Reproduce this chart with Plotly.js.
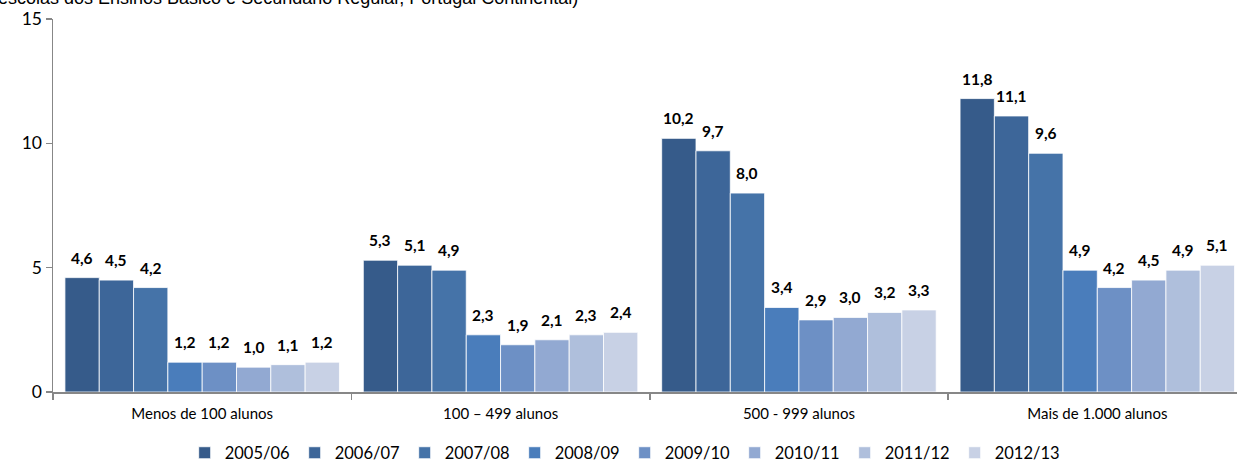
<!DOCTYPE html>
<html>
<head>
<meta charset="utf-8">
<script src="https://cdn.plot.ly/plotly-3.0.1.min.js"></script>
<style>
html,body{margin:0;padding:0;background:#fff;overflow:hidden;}
#chart{width:1237px;height:469px;}
</style>
</head>
<body>
<div id="chart"></div>
<script>
const categories = ["Menos de 100 alunos", "100 – 499 alunos", "500 - 999 alunos", "Mais de 1.000 alunos"];
const seriesNames = ["2005/06", "2006/07", "2007/08", "2008/09", "2009/10", "2010/11", "2011/12", "2012/13"];
const v2005_06 = [4.6, 5.3, 10.2, 11.8];
const v2006_07 = [4.5, 5.1, 9.7, 11.1];
const v2007_08 = [4.2, 4.9, 8.0, 9.6];
const v2008_09 = [1.2, 2.3, 3.4, 4.9];
const v2009_10 = [1.2, 1.9, 2.9, 4.2];
const v2010_11 = [1.0, 2.1, 3.0, 4.5];
const v2011_12 = [1.1, 2.3, 3.2, 4.9];
const v2012_13 = [1.2, 2.4, 3.3, 5.1];
const seriesValues = [v2005_06, v2006_07, v2007_08, v2008_09, v2009_10, v2010_11, v2011_12, v2012_13];
const colors = ["#365b8a", "#3d6699", "#4573a8", "#4a7dbb", "#6d90c5", "#92a9d2", "#afbfdc", "#c8d1e5"];
const yTicks = [0, 5, 10, 15];
const titleText = "escolas dos Ensinos Básico e Secundário Regular, Portugal Continental)";

const bargap = 0.08;
const nS = seriesNames.length;
const w = (1 - bargap) / nS;

const traces = seriesNames.map((name, j) => ({
  type: "bar",
  name: name,
  x: categories,
  y: seriesValues[j],
  marker: {color: colors[j], line: {color: "#ffffff", width: 0.8}},
  hoverinfo: "none"
}));

const annotations = [];
seriesValues.forEach((vals, j) => {
  vals.forEach((v, i) => {
    annotations.push({
      x: i - 0.5 + bargap / 2 + (j + 0.5) * w,
      y: v,
      xref: "x", yref: "y",
      text: "<b>" + v.toFixed(1).replace(".", ",") + "</b>",
      showarrow: false,
      yanchor: "bottom",
      xanchor: "center",
      yshift: 9,
      font: {family: "Lato, 'Open Sans', sans-serif", size: 15.5, color: "#000"}
    });
  });
});

const plotW = 1237 - 52.5;
annotations.push({
  xref: "paper", yref: "paper",
  x: (-5 - 52.5) / plotW, y: 1 + (19 - 9.5) / 373,
  xanchor: "left", yanchor: "bottom",
  text: titleText, showarrow: false,
  font: {family: "'Liberation Sans', Arial, sans-serif", size: 18, color: "#000"}
});

const layout = {
  width: 1237, height: 469,
  margin: {l: 52.5, r: 0, t: 19, b: 77, pad: 0},
  paper_bgcolor: "#fff", plot_bgcolor: "#fff",
  barmode: "group", bargap: bargap, bargroupgap: 0,
  separators: ",.",
  showlegend: true,
  legend: {
    orientation: "h", xref: "container", x: 0.505, xanchor: "center",
    yref: "container", y: 1 - 453 / 469, yanchor: "middle",
    font: {family: "Lato, 'Open Sans', sans-serif", size: 16.5, color: "#000"},
    itemwidth: 30, tracegroupgap: 0, entrywidth: 65, entrywidthmode: "pixels"
  },
  xaxis: {
    type: "category",
    range: [-0.5, -0.5 + plotW / 298.5],
    showline: true, linecolor: "#878787", linewidth: 1.5,
    ticks: "outside", tickson: "boundaries", ticklen: 6, tickcolor: "#878787", tickwidth: 1.5,
    ticklabelstandoff: 7,
    tickfont: {family: "Lato, 'Open Sans', sans-serif", size: 15, color: "#000"},
    showgrid: false, zeroline: false, fixedrange: true
  },
  yaxis: {
    range: [0, 15],
    tickvals: yTicks,
    ticktext: yTicks.map(String),
    showline: true, linecolor: "#878787", linewidth: 1.5,
    ticks: "outside", ticklen: 6, tickcolor: "#878787", tickwidth: 1.5,
    tickfont: {family: "Lato, 'Open Sans', sans-serif", size: 17.5, color: "#000"},
    showgrid: false, zeroline: false, fixedrange: true
  },
  annotations: annotations
};

Plotly.newPlot("chart", traces, layout, {displayModeBar: false, staticPlot: true});
</script>
</body>
</html>
